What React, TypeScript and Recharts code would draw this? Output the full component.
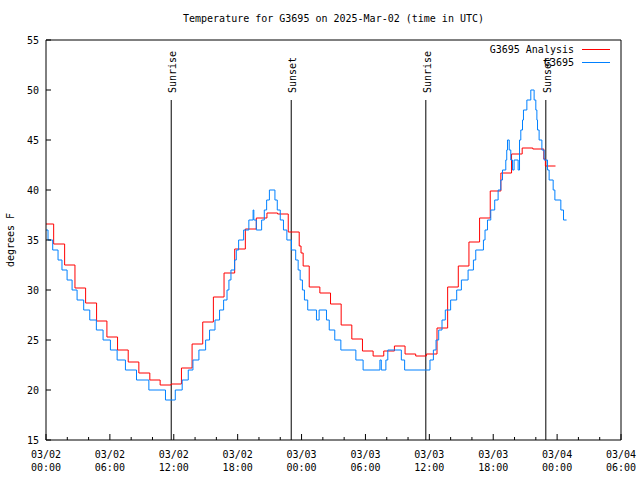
import React from 'react';
import { LineChart, Line, XAxis, YAxis, ReferenceLine } from 'recharts';

// hours since 03/02 00:00 UTC
const analysisHours = [
  0, 0.72, 1.75, 2.72, 3.72, 4.75, 5.72, 6.72, 7.72, 8.72, 9.75, 10.72, 11.75,
  12.72, 13.72, 14.72, 15.72, 16.72, 17.72, 18.72, 19.75, 20.75, 21.75, 22.75,
  23.78, 23.95, 24.15, 24.72, 25.72, 26.72, 27.72, 28.72, 29.72, 30.72, 31.72,
  32.72, 33.72, 34.72, 35.72, 36.72, 37.72, 38.72, 39.72, 40.72, 41.72, 42.72,
  43.72, 44.72, 45.72, 46.75, 46.9, 47.85,
];
const analysisTemps = [
  36.6, 34.6, 32.5, 30.2, 28.7, 26.9, 25.3, 24.0, 22.8, 21.7, 21.0, 20.5, 20.6,
  22.2, 24.6, 26.8, 29.3, 31.7, 34.1, 36.1, 37.2, 37.7, 37.6, 35.8,
  34.4, 33.7, 32.4, 30.3, 29.7, 28.6, 26.5, 25.1, 23.9, 23.4, 23.9,
  24.4, 23.6, 23.4, 23.6, 26.2, 30.3, 32.4, 34.8, 37.2, 39.9, 41.7,
  43.6, 44.2, 44.1, 43.1, 42.4, 42.4,
];

const obsHours = [
  0, 0.19, 0.63, 1.13, 1.5, 1.98, 2.45, 2.92, 3.54, 4.11, 4.73, 5.36, 6.05,
  6.68, 7.46, 8.5, 9.66, 11.22, 12.14, 12.79, 13.36, 13.8, 14.36, 14.99, 15.36,
  15.87, 16.3, 16.68, 17.0, 17.18, 17.37, 17.71, 17.87, 18.09, 18.56, 19.05,
  19.45, 19.52, 19.75, 20.25, 20.5, 20.72, 20.98, 21.5, 21.72, 22.0, 22.3,
  22.62, 23.05, 23.45, 23.68, 23.87, 24.08, 24.27, 24.58, 25.4, 25.65, 26.34,
  26.6, 27.12, 27.69, 29.1, 29.78, 31.36, 31.49, 31.92, 32.1, 33.37, 33.68,
  36.06, 36.38, 36.63, 36.88, 37.19, 37.5, 38.0, 38.57, 39.01, 39.64, 40.14,
  40.36, 41.08, 41.23, 41.46, 41.77, 42.14, 42.46, 42.71, 42.87, 43.18, 43.27,
  43.34, 43.5, 43.65, 43.81, 43.96, 44.34, 44.47, 44.59, 44.75, 44.84, 45.16,
  45.53, 45.84, 46.0, 46.1, 46.16, 46.31, 46.57, 46.78, 47.1, 47.25, 47.63,
  47.79, 48.35, 48.6, 48.89,
];
const obsTemps = [
  36, 35, 34, 33, 32, 31, 30, 29, 28, 27, 26, 25, 24,
  23, 22, 21, 20, 19, 20, 21, 22, 23, 24, 25, 26,
  27, 28, 29, 30, 31, 32, 33, 34, 35, 36, 37,
  38, 37, 36, 37, 38, 39, 40, 39, 38, 37, 36,
  35, 34, 33, 32, 31, 30, 29, 28, 27, 28, 27,
  26, 25, 24, 23, 22, 23, 22, 23, 24, 23, 22,
  23, 24, 25, 26, 27, 28, 29, 30, 31, 32, 33,
  34, 35, 36, 37, 38, 39, 40, 41, 42, 43, 44,
  45, 44, 43, 42, 43, 42, 45, 46, 47, 48, 49,
  50, 49, 48, 47, 46, 45, 44, 43, 42, 41, 40,
  39, 38, 37, 37,
];

const sunNames = ['Sunrise', 'Sunset', 'Sunrise', 'Sunset'];
const sunHours = [11.76, 23.03, 35.67, 46.94];

const xTicks = [0, 2, 4, 6, 8, 10, 12, 14, 16, 18, 20, 22, 24, 26, 28, 30, 32, 34, 36, 38, 40, 42, 44, 46, 48, 50, 52, 54];
const yTicks = [15, 20, 25, 30, 35, 40, 45, 50, 55];

const seriesNames = ['G3695 Analysis', 'G3695'];

const FONT = '"DejaVu Sans Mono", monospace';
const RED = '#ff0000';
const BLUE = '#0080ff';

const zip = (hours: number[], temps: number[]) => hours.map((t, i) => ({ t, v: temps[i] }));
const analysisData = zip(analysisHours, analysisTemps);
const obsData = zip(obsHours, obsTemps);

const dateLines = (h: number) => {
  const day = 2 + Math.floor(h / 24);
  const hr = h % 24;
  return [`03/0${day}`, `${String(hr).padStart(2, '0')}:00`];
};

const BottomTick = (props: any) => {
  const { x, y, payload } = props;
  const major = payload.value % 6 === 0;
  const [d, t] = dateLines(payload.value);
  return (
    <g>
      <line x1={x} x2={x} y1={y} y2={y - (major ? 6 : 3)} stroke="#000" />
      {major && (
        <text fontFamily={FONT} fontSize={10} fill="#000" textAnchor="middle">
          <tspan x={x} y={y + 18}>{d}</tspan>
          <tspan x={x} y={y + 31}>{t}</tspan>
        </text>
      )}
    </g>
  );
};

const TopTick = (props: any) => {
  const { x, y, payload } = props;
  const major = payload.value % 6 === 0;
  return <line x1={x} x2={x} y1={y} y2={y + (major ? 6 : 3)} stroke="#000" />;
};

const LeftTick = (props: any) => {
  const { x, y, payload } = props;
  return (
    <g>
      <line x1={x} x2={x + 5} y1={y} y2={y} stroke="#000" />
      <text x={x - 7} y={y + 3.5} textAnchor="end" fontFamily={FONT} fontSize={10} fill="#000">
        {payload.value}
      </text>
    </g>
  );
};

const RightTick = (props: any) => {
  const { x, y } = props;
  return <line x1={x} x2={x - 5} y1={y} y2={y} stroke="#000" />;
};

const sunLabel = (text: string) => (props: any) => {
  const vb = props.viewBox || {};
  return (
    <text
      transform={`translate(${vb.x + 5},${vb.y - 7}) rotate(-90)`}
      fontFamily={FONT}
      fontSize={10}
      fill="#000"
    >
      {text}
    </text>
  );
};

export default function App() {
  const legendColors = [RED, BLUE];
  return (
    <div style={{ position: 'absolute', left: 0, top: 0, width: 640, height: 480, background: '#fff' }}>
      <div
        style={{
          position: 'absolute', left: 46, top: 13, width: 575, textAlign: 'center',
          fontFamily: FONT, fontSize: 10, lineHeight: '12px',
        }}
      >
        Temperature for G3695 on 2025-Mar-02 (time in UTC)
      </div>
      <div
        style={{
          position: 'absolute', left: 10, top: 240, transform: 'translate(-50%, -50%) rotate(-90deg)',
          fontFamily: FONT, fontSize: 10, whiteSpace: 'nowrap',
        }}
      >
        degrees F
      </div>
      <LineChart width={640} height={480} margin={{ top: 0, right: 0, bottom: 0, left: 0 }}>
        <XAxis
          dataKey="t"
          type="number"
          domain={[0, 54]}
          ticks={xTicks}
          interval={0}
          height={40}
          tickSize={0}
          tickMargin={0}
          tickLine={false}
          tick={<BottomTick />}
          axisLine={{ stroke: '#000' }}
        />
        <XAxis
          xAxisId="top"
          orientation="top"
          dataKey="t"
          type="number"
          domain={[0, 54]}
          ticks={xTicks}
          interval={0}
          height={40}
          tickSize={0}
          tickMargin={0}
          tickLine={false}
          tick={<TopTick />}
          axisLine={{ stroke: '#000' }}
        />
        <YAxis
          type="number"
          domain={[15, 55]}
          ticks={yTicks}
          interval={0}
          width={46}
          tickSize={0}
          tickMargin={0}
          tickLine={false}
          tick={<LeftTick />}
          axisLine={{ stroke: '#000' }}
        />
        <YAxis
          yAxisId="right"
          orientation="right"
          type="number"
          domain={[15, 55]}
          ticks={yTicks}
          interval={0}
          width={19}
          tickSize={0}
          tickMargin={0}
          tickLine={false}
          tick={<RightTick />}
          axisLine={{ stroke: '#000' }}
        />
        {sunHours.map((h, i) => (
          <ReferenceLine
            key={i}
            segment={[{ x: h, y: 15 }, { x: h, y: 49 }]}
            stroke="#000"
            strokeWidth={1}
            label={sunLabel(sunNames[i])}
          />
        ))}
        <Line
          data={analysisData}
          dataKey="v"
          name={seriesNames[0]}
          type="stepAfter"
          stroke={RED}
          strokeWidth={1}
          dot={false}
          activeDot={false}
          isAnimationActive={false}
        />
        <Line
          data={obsData}
          dataKey="v"
          name={seriesNames[1]}
          type="stepAfter"
          stroke={BLUE}
          strokeWidth={1}
          dot={false}
          activeDot={false}
          isAnimationActive={false}
        />
      </LineChart>
      <div
        style={{
          position: 'absolute', right: 30, top: 43, fontFamily: FONT, fontSize: 10,
          lineHeight: '13px', color: '#000',
        }}
      >
        {seriesNames.map((name, i) => (
          <div key={name} style={{ display: 'flex', justifyContent: 'flex-end', alignItems: 'center' }}>
            <span>{name}</span>
            <span
              style={{
                display: 'inline-block', width: 28, height: 0,
                borderTop: `1px solid ${legendColors[i]}`, marginLeft: 8,
              }}
            />
          </div>
        ))}
      </div>
    </div>
  );
}
